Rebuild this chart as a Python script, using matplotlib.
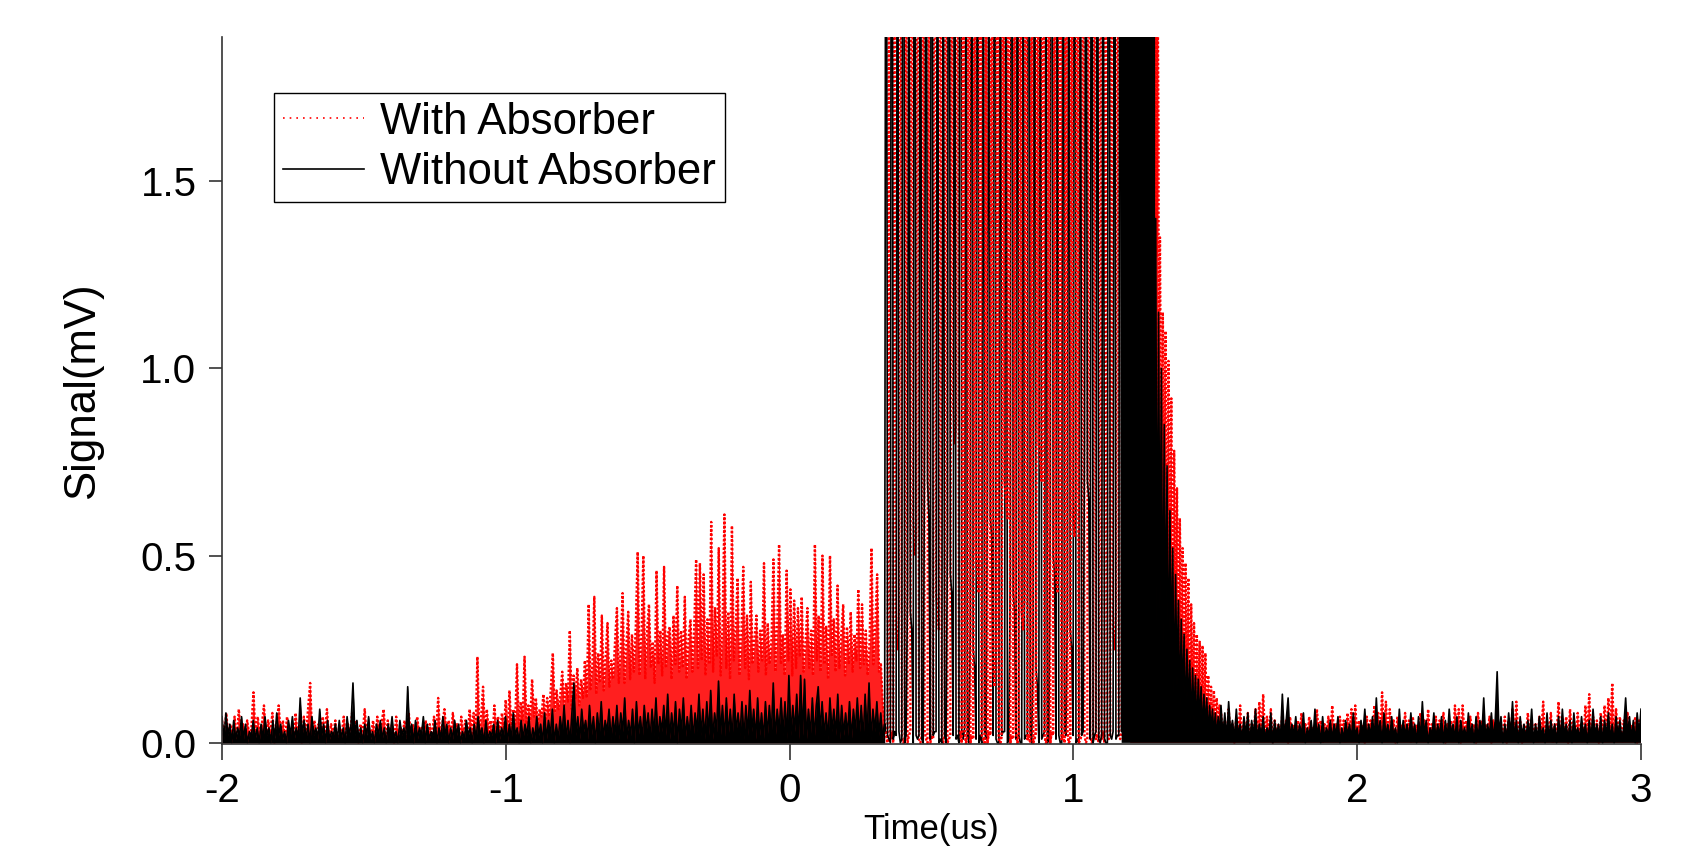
import numpy as np
import matplotlib
matplotlib.use("Agg")
import matplotlib.pyplot as plt
from matplotlib.lines import Line2D
from matplotlib.ticker import FormatStrFormatter, FixedLocator

plt.rcParams['font.family'] = ['Liberation Sans', 'DejaVu Sans']
plt.rcParams['axes.unicode_minus'] = False

# ---------------- data (mV) ----------------
# Without Absorber (black), segment by segment
black_pre = [  # -2.0 .. 0.335 us
    0.07,0.01,0.08,0.02,0.05,0.00,0.06,0.01,0.04,0.02,0.07,0.01,0.05,0.00,0.03,0.02,0.06,0.01,0.04,0.00,
    0.05,0.01,0.07,0.02,0.04,0.00,0.06,0.01,0.08,0.02,0.05,0.01,0.03,0.00,0.06,0.02,0.07,0.01,0.04,0.01,
    0.12,0.02,0.06,0.01,0.05,0.00,0.07,0.02,0.04,0.01,0.09,0.02,0.05,0.00,0.06,0.01,0.03,0.02,0.05,0.01,
    0.06,0.01,0.04,0.00,0.07,0.02,0.05,0.16,0.02,0.06,0.01,0.04,0.00,0.05,0.02,0.07,0.01,0.03,0.00,0.05,
    0.02,0.06,0.01,0.04,0.00,0.05,0.02,0.07,0.01,0.03,0.00,0.06,0.02,0.04,0.01,0.15,0.02,0.05,0.00,0.06,
    0.01,0.04,0.02,0.07,0.00,0.05,0.01,0.03,0.02,0.06,0.00,0.04,0.01,0.07,0.02,0.05,0.00,0.04,0.01,0.06,
    0.02,0.05,0.00,0.03,0.01,0.06,0.02,0.04,0.00,0.05,0.01,0.07,0.02,0.04,0.00,0.06,0.01,0.03,0.02,0.05,
    0.00,0.06,0.01,0.04,0.02,0.07,0.00,0.05,0.01,0.08,0.02,0.04,0.00,0.06,0.01,0.05,0.02,0.07,0.00,0.04,
    0.01,0.07,0.02,0.05,0.00,0.08,0.01,0.06,0.02,0.09,0.00,0.05,0.01,0.07,0.02,0.10,0.01,0.06,0.00,0.08,
    0.16,0.02,0.07,0.01,0.09,0.03,0.06,0.01,0.10,0.02,0.07,0.00,0.08,0.02,0.11,0.01,0.06,0.03,0.09,0.01,
    0.07,0.02,0.10,0.01,0.08,0.03,0.12,0.01,0.06,0.02,0.09,0.00,0.11,0.02,0.07,0.01,0.10,0.03,0.08,0.01,
    0.09,0.02,0.12,0.01,0.07,0.03,0.10,0.02,0.13,0.01,0.08,0.02,0.11,0.00,0.09,0.03,0.12,0.01,0.07,0.02,
    0.10,0.01,0.08,0.03,0.13,0.02,0.09,0.01,0.11,0.02,0.14,0.01,0.08,0.03,0.165,0.02,0.10,0.01,0.12,0.02,
    0.09,0.01,0.13,0.03,0.08,0.02,0.11,0.01,0.10,0.02,0.14,0.03,0.09,0.01,0.12,0.02,0.08,0.01,0.11,0.02,
    0.10,0.02,0.16,0.01,0.09,0.03,0.12,0.02,0.11,0.01,0.18,0.02,0.10,0.03,0.13,0.01,0.18,0.02,0.17,0.01,
    0.09,0.02,0.12,0.01,0.10,0.15,0.03,0.11,0.02,0.08,0.01,0.12,0.03,0.09,0.02,0.13,0.01,0.10,0.02,0.08,
    0.02,0.11,0.01,0.09,0.03,0.12,0.02,0.10,0.01,0.13,0.02,0.16,0.01,0.09,0.03,0.11,0.02,0.08,0.01,0.05,
]
black_burst = [  # 0.335 .. 1.17 us (peaks run off the top of the axes)
    0.03,3.8,0.02,0.01, 0.00,4.5,0.01,0.03, 0.02,3.2,0.03,0.00, 0.01,5.0,0.00,0.02,
    0.40,2.6,0.35,0.30, 0.00,4.2,0.02,0.01, 0.02,3.5,0.01,0.00, 0.85,2.9,0.70,0.60,
    0.01,4.8,0.02,0.03, 0.03,3.1,0.00,0.01, 0.00,2.7,0.02,0.00, 0.55,4.0,0.45,0.40,
    0.02,3.3,0.01,0.02, 0.00,5.2,0.03,0.01, 0.04,2.8,0.02,0.00, 0.30,3.9,0.25,0.20,
    0.01,4.4,0.00,0.02, 0.00,3.0,0.03,0.01, 0.70,2.5,0.60,0.55, 0.02,4.6,0.01,0.00,
    0.00,3.4,0.02,0.03, 0.03,2.9,0.00,0.01, 0.45,4.1,0.40,0.35, 0.01,3.6,0.02,0.00,
    0.00,2.7,0.01,0.02, 0.02,4.9,0.03,0.00, 0.25,3.2,0.20,0.15, 0.00,3.8,0.01,0.02,
    0.03,2.6,0.00,0.01, 0.60,4.3,0.50,0.45, 0.01,3.1,0.02,0.00, 0.00,3.7,0.03,0.02,
    0.35,2.8,0.30,0.25, 0.02,4.5,0.00,0.01, 0.00,3.3,0.02,0.03, 0.80,2.9,0.70,0.65,
    0.01,4.0,0.00,0.02, 0.03,3.5,0.01,0.00, 0.02,3.0,0.01,0.00, 0.00,4.7,0.02,0.01,
    0.03,3.6,0.01,0.02, 0.02,4.2,0.03,
]
black_dense = [  # 1.17 .. 1.285 us
    3.5,1.2,4.0,0.9,3.2,1.5,3.8,1.1,2.9,0.7,4.2,1.3,3.4,1.0,3.0,1.6,3.9,0.8,3.1,1.4,
    3.6,1.2,2.8,0.9,3.3,1.5,2.9,1.1,2.6,1.3,2.4,1.0,2.0,
]
black_tail = [  # 1.285 .. 1.515 us
    0.30,1.40,0.20,1.15,0.35,1.00,0.15,0.85,0.25,0.74,0.10,0.62,0.20,0.52,0.08,0.45,
    0.15,0.38,0.06,0.33,0.10,0.29,0.04,0.25,0.08,0.22,0.03,0.20,0.06,0.18,0.02,0.17,
    0.05,0.15,0.02,0.13,0.04,0.12,0.01,0.10,0.03,0.09,0.02,0.08,0.01,0.07,0.02,
]
black_post = [  # 1.52 .. 3.0 us
    0.10,0.02,0.08,0.01,0.11,0.03,0.06,0.01,0.09,0.02,0.05,0.01,0.07,0.02,0.08,0.00,0.06,0.02,0.09,0.01,
    0.05,0.02,0.07,0.01,0.04,0.02,0.08,0.00,0.06,0.02,0.05,0.01,0.13,0.02,0.06,0.12,0.01,0.05,0.02,0.07,
    0.01,0.05,0.02,0.08,0.00,0.04,0.02,0.06,0.01,0.09,0.02,0.05,0.00,0.07,0.01,0.04,0.02,0.06,0.01,0.05,
    0.02,0.07,0.00,0.04,0.01,0.06,0.02,0.05,0.01,0.08,0.02,0.04,0.00,0.06,0.02,0.09,0.01,0.05,0.02,0.07,
    0.01,0.12,0.02,0.06,0.00,0.08,0.02,0.05,0.01,0.07,0.02,0.04,0.00,0.09,0.01,0.06,0.02,0.05,0.01,0.08,
    0.02,0.05,0.00,0.07,0.01,0.11,0.02,0.06,0.00,0.04,0.02,0.08,0.01,0.05,0.02,0.07,0.00,0.06,0.01,0.09,
    0.02,0.05,0.01,0.07,0.00,0.06,0.02,0.04,0.01,0.08,0.02,0.05,0.00,0.07,0.01,0.06,0.02,0.12,0.01,0.05,
    0.02,0.08,0.01,0.06,0.19,0.02,0.07,0.00,0.05,0.01,0.08,0.02,0.11,0.01,0.06,0.00,0.07,0.02,0.05,0.01,
    0.06,0.02,0.09,0.00,0.05,0.01,0.07,0.02,0.04,0.00,0.08,0.01,0.06,0.02,0.05,0.00,0.07,0.01,0.09,0.02,
    0.05,0.01,0.06,0.00,0.08,0.02,0.04,0.01,0.07,0.02,0.05,0.00,0.06,0.01,0.09,0.02,0.05,0.01,0.07,0.00,
    0.06,0.02,0.08,0.01,0.05,0.00,0.07,0.02,0.06,0.01,0.04,0.12,0.02,0.07,0.01,0.06,0.00,0.08,0.02,0.09,
]
black_spans = [(-2.0, 0.335), (0.335, 1.17), (1.17, 1.285), (1.285, 1.515), (1.52, 3.0)]

# With Absorber (red)
red_pre = [  # -2.0 .. -1.12 us
    0.06,0.01,0.08,0.02,0.05,0.01,0.07,0.00,0.09,0.02,0.05,0.01,0.06,0.02,0.04,0.135,0.01,0.07,0.02,0.05,
    0.10,0.01,0.06,0.02,0.08,0.00,0.05,0.10,0.02,0.06,0.01,0.07,0.02,0.04,0.01,0.08,0.02,0.05,0.00,0.07,
    0.02,0.09,0.16,0.01,0.06,0.02,0.05,0.00,0.07,0.02,0.09,0.01,0.05,0.02,0.06,0.00,0.04,0.02,0.07,0.01,
    0.05,0.02,0.08,0.01,0.06,0.00,0.05,0.02,0.09,0.01,0.04,0.02,0.06,0.00,0.07,0.02,0.05,0.09,0.01,0.06,
    0.02,0.05,0.00,0.07,0.01,0.04,0.02,0.06,0.00,0.08,0.02,0.05,0.01,0.07,0.02,0.04,0.00,0.06,0.02,0.05,
    0.01,0.07,0.02,0.12,0.01,0.05,0.09,0.02,0.06,0.01,0.08,0.02,0.05,0.00,0.07,0.02,0.06,0.01,0.09,0.02,
]
red_rise = [  # -1.12 .. 0.335 us
    0.03,0.08,0.02,0.23,0.03,0.07,0.15,0.02,0.09,0.03,0.06,0.01,0.10,0.03,0.07,0.02,0.08,0.03,0.115,0.02,
    0.14,0.04,0.09,0.05,0.21,0.04,0.11,0.06,0.23,0.05,0.10,0.06,0.17,0.07,0.12,0.05,0.09,0.07,0.13,0.06,
    0.12,0.07,0.15,0.24,0.08,0.14,0.09,0.13,0.19,0.10,0.16,0.11,0.30,0.09,0.18,0.12,0.20,0.10,0.17,0.12,
    0.22,0.12,0.37,0.14,0.21,0.39,0.13,0.24,0.16,0.34,0.14,0.23,0.32,0.15,0.22,0.17,0.27,0.36,0.16,0.25,
    0.40,0.16,0.26,0.35,0.17,0.29,0.19,0.31,0.51,0.18,0.28,0.50,0.17,0.30,0.37,0.20,0.27,0.16,0.46,0.21,
    0.30,0.18,0.47,0.20,0.29,0.31,0.17,0.34,0.21,0.42,0.19,0.30,0.20,0.39,0.17,0.28,0.33,0.19,0.31,0.49,
    0.20,0.48,0.22,0.45,0.18,0.33,0.21,0.59,0.19,0.36,0.23,0.52,0.18,0.31,0.61,0.20,0.35,0.17,0.58,0.22,
    0.31,0.44,0.18,0.29,0.47,0.20,0.34,0.17,0.43,0.21,0.28,0.34,0.19,0.30,0.22,0.48,0.18,0.32,0.21,0.28,
    0.49,0.19,0.31,0.53,0.21,0.29,0.18,0.46,0.22,0.41,0.18,0.38,0.20,0.36,0.23,0.39,0.19,0.27,0.36,0.20,
    0.30,0.18,0.53,0.22,0.34,0.19,0.50,0.21,0.31,0.17,0.50,0.23,0.33,0.19,0.42,0.20,0.29,0.37,0.18,0.31,
    0.21,0.35,0.19,0.29,0.22,0.41,0.20,0.37,0.21,0.30,0.18,0.27,0.52,0.21,0.31,0.45,0.19,0.21,0.10,0.05,
]
red_burst = [  # 0.335 .. 1.20 us (peaks run off the top of the axes)
    0.05,0.02,0.00,2.4, 0.01,0.03,0.00,3.6, 0.30,0.25,0.35,4.1, 0.02,0.00,0.01,2.9,
    0.00,0.02,0.03,3.8, 0.60,0.50,0.55,4.4, 0.01,0.00,0.02,3.1, 0.03,0.01,0.00,2.7,
    0.00,0.02,0.01,4.6, 0.40,0.35,0.30,3.3, 0.02,0.00,0.03,3.9, 0.00,0.01,0.02,2.8,
    0.90,0.80,0.85,4.2, 0.01,0.03,0.00,3.5, 0.03,0.00,0.02,5.0, 0.00,0.02,0.01,3.0,
    0.50,0.45,0.40,4.0, 0.02,0.01,0.00,2.6, 0.00,0.03,0.02,3.7, 0.20,0.15,0.25,4.3,
    0.01,0.00,0.02,3.2, 0.70,0.65,0.60,4.8, 0.00,0.02,0.01,2.9, 0.03,0.00,0.02,3.6,
    0.35,0.30,0.40,4.1, 0.01,0.02,0.00,3.0, 0.00,0.01,0.03,3.9, 0.80,0.75,0.70,4.5,
    0.02,0.00,0.01,3.3, 0.00,0.03,0.02,2.7, 0.45,0.40,0.50,4.2, 0.01,0.02,0.00,3.5,
    0.03,0.00,0.01,3.1, 0.60,0.55,0.65,4.7, 0.00,0.01,0.02,3.4, 0.02,0.00,0.01,4.0,
    0.02,0.00,0.01,2.9, 0.01,0.02,0.00,3.8, 0.01,0.03,0.00,4.4, 0.03,0.01,0.02,3.6,
    0.30,0.25,0.35,4.1, 0.02,0.01,0.03,3.3, 0.90,0.85,0.95,3.9, 0.8,
]
red_dense = [  # 1.20 .. 1.30 us
    1.2,3.4,0.9,3.9,1.4,3.1,0.7,3.7,1.5,3.0,1.1,3.6,0.8,3.2,1.3,2.9,1.0,3.4,1.6,2.8,
    1.2,3.1,1.4,2.6,1.5,2.4,1.3,2.1,1.6,
]
red_tail = [  # 1.30 .. 1.52 us
    0.90,1.35,0.60,1.15,0.70,1.10,0.45,1.02,0.50,0.92,0.30,0.78,0.35,0.68,0.20,0.60,
    0.25,0.52,0.15,0.48,0.20,0.44,0.10,0.37,0.12,0.32,0.08,0.29,0.10,0.27,0.06,0.26,
    0.08,0.24,0.05,0.18,0.06,0.15,0.04,0.14,0.05,0.12,0.03,0.10,0.04,
]
red_post = [  # 1.52 .. 3.0 us
    0.08,0.02,0.06,0.01,0.09,0.02,0.05,0.00,0.07,0.02,0.10,0.01,0.06,0.02,0.08,0.01,0.05,0.02,0.09,0.01,
    0.11,0.02,0.13,0.01,0.07,0.02,0.09,0.00,0.06,0.02,0.05,0.01,0.08,0.02,0.06,0.00,0.07,0.02,0.05,0.01,
    0.06,0.02,0.08,0.00,0.05,0.01,0.07,0.02,0.04,0.01,0.09,0.02,0.06,0.00,0.05,0.02,0.07,0.01,0.10,0.02,
    0.05,0.01,0.07,0.02,0.06,0.00,0.08,0.02,0.09,0.01,0.10,0.02,0.06,0.01,0.05,0.00,0.07,0.02,0.06,0.01,
    0.10,0.02,0.08,0.01,0.135,0.02,0.11,0.01,0.09,0.02,0.06,0.00,0.07,0.02,0.05,0.01,0.08,0.02,0.06,0.00,
    0.07,0.02,0.05,0.01,0.08,0.02,0.06,0.00,0.09,0.01,0.05,0.02,0.07,0.01,0.06,0.02,0.08,0.00,0.05,0.02,
    0.06,0.01,0.10,0.02,0.09,0.00,0.10,0.02,0.06,0.01,0.07,0.02,0.05,0.00,0.08,0.02,0.06,0.01,0.05,0.02,
    0.07,0.00,0.06,0.02,0.08,0.01,0.05,0.02,0.07,0.00,0.06,0.02,0.09,0.01,0.11,0.02,0.06,0.00,0.05,0.02,
    0.08,0.01,0.06,0.02,0.05,0.00,0.07,0.02,0.11,0.01,0.06,0.02,0.08,0.00,0.05,0.02,0.11,0.01,0.06,0.02,
    0.07,0.00,0.09,0.02,0.06,0.01,0.08,0.02,0.05,0.00,0.10,0.02,0.13,0.01,0.07,0.02,0.06,0.00,0.08,0.02,
    0.10,0.01,0.12,0.02,0.16,0.01,0.09,0.02,0.07,0.00,0.06,0.02,0.08,0.01,0.05,0.02,0.07,0.00,0.06,0.02,
]
red_spans = [(-2.0, -1.12), (-1.12, 0.335), (0.335, 1.20), (1.20, 1.30), (1.30, 1.52), (1.52, 3.0)]

x_ticks = [-2, -1, 0, 1, 2, 3]
y_ticks = [0.0, 0.5, 1.0, 1.5]
series_labels = ["With Absorber", "Without Absorber"]


def segment_times(segments, spans):
    return [np.linspace(a, b, len(s)) for s, (a, b) in zip(segments, spans)]


red_segs = [red_pre, red_rise, red_burst, red_dense, red_tail, red_post]
blk_segs = [black_pre, black_burst, black_dense, black_tail, black_post]
red_ts = segment_times(red_segs, red_spans)
blk_ts = segment_times(blk_segs, black_spans)


def join(ts, segs, idx):
    return (np.concatenate([ts[i] for i in idx]),
            np.concatenate([np.asarray(segs[i], dtype=float) for i in idx]))


# ---------------- figure ----------------
W, H = 1687, 848
fig = plt.figure(figsize=(W / 100, H / 100), dpi=100)
L, R, T, B = 222, 1641, 37, 744
ax = fig.add_axes([L / W, 1 - B / H, (R - L) / W, (B - T) / H])

RED = '#ff0000'
# the very densely sampled traces read as solid areas under the curve
for idx in ([0, 1], [3, 4, 5]):
    t, v = join(red_ts, red_segs, idx)
    ax.fill_between(t, 0, v, color=RED, alpha=0.88, lw=0, zorder=2)
for idx in ([0], [2, 3, 4]):
    t, v = join(blk_ts, blk_segs, idx)
    ax.fill_between(t, 0, v, color='black', lw=0, zorder=3)

t_all, v_all = join(red_ts, red_segs, range(6))
ax.plot(t_all, v_all, color=RED, lw=1.7, ls=(0, (1, 0.8)), zorder=2.5)
t_all, v_all = join(blk_ts, blk_segs, range(5))
ax.plot(t_all, v_all, color='black', lw=1.2, zorder=3.5)
# in the middle of the saturated burst the red strokes lie over the black ones
t_b, v_b = join(red_ts, red_segs, [2])
mid = (t_b >= 0.60) & (t_b <= 1.03)
ax.plot(t_b[mid], v_b[mid], color=RED, lw=1.7, ls=(0, (1, 0.8)), zorder=4)

ax.set_xlim(-2, 3)
ax.set_ylim(-0.003, 1.885)

for s in ['top', 'right']:
    ax.spines[s].set_visible(False)
for s in ['left', 'bottom']:
    ax.spines[s].set_linewidth(1.2)
    ax.spines[s].set_color('#333333')
    ax.spines[s].set_zorder(5)

ax.xaxis.set_major_locator(FixedLocator(x_ticks))
ax.yaxis.set_major_locator(FixedLocator(y_ticks))
ax.yaxis.set_major_formatter(FormatStrFormatter('%.1f'))
ax.tick_params(axis='x', direction='out', length=11.5, width=1.2, color='#333333',
               labelsize=29, pad=8.5)
ax.tick_params(axis='y', direction='out', length=9.4, width=1.2, color='#333333',
               labelsize=29, pad=9)

ax.set_xlabel('Time(us)', fontsize=25, va='bottom')
ax.xaxis.set_label_coords(0.5, -0.1443)
ax.set_ylabel('Signal(mV)', fontsize=31.5)
ax.yaxis.set_label_coords(-0.0839, 0.5)

handles = [Line2D([], [], color=RED, lw=1.2, ls=(0, (1, 3))),
           Line2D([], [], color='black', lw=1.2)]
leg = ax.legend(handles, series_labels, loc='upper left',
                bbox_to_anchor=(274 / W, 1 - 93 / H), bbox_transform=fig.transFigure,
                borderaxespad=0, fontsize=31.5, frameon=True, fancybox=False,
                edgecolor='black', framealpha=1, handlelength=1.85,
                handletextpad=0.38, borderpad=0.2, labelspacing=0.22)
leg.get_frame().set_linewidth(1.0)
leg.set_zorder(10)

fig.savefig('out.png', dpi=100)
